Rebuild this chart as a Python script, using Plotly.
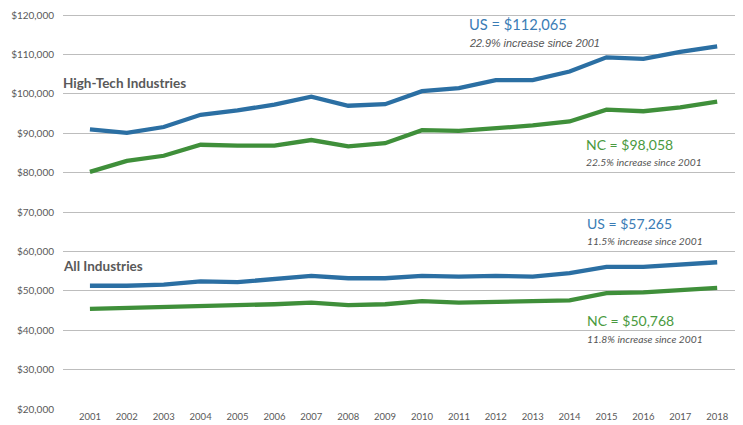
import plotly.graph_objects as go

years = list(range(2001, 2019))
us_hightech = [91000, 90100, 91600, 94700, 95800, 97300, 99300, 97000, 97400, 100700,
               101500, 103500, 103500, 105700, 109300, 108900, 110700, 112065]
nc_hightech = [80200, 83000, 84300, 87100, 86900, 86900, 88300, 86700, 87500, 90800,
               90600, 91200, 92000, 93000, 96000, 95600, 96600, 98058]
us_all = [51300, 51300, 51600, 52400, 52200, 53000, 53800, 53200, 53200, 53800,
          53600, 53800, 53600, 54500, 56100, 56100, 56700, 57265]
nc_all = [45400, 45600, 45800, 46200, 46200, 46600, 47000, 46400, 46600, 47400,
          47000, 47200, 47200, 47600, 49400, 49600, 50200, 50768]
y_ticks = [20000, 30000, 40000, 50000, 60000, 70000, 80000, 90000, 100000, 110000, 120000]
y_tick_labels = ["$" + f"{v:,}" for v in y_ticks]

BLUE = "#2b6fa3"
GREEN = "#3f8f3a"
BLUE_TXT = "#3a7cb5"
GREEN_TXT = "#4a9a40"
GRAY = "#595959"
FONT = "Lato, 'Source Sans Pro', sans-serif"

fig = go.Figure()
for vals, col in [(us_hightech, BLUE), (nc_hightech, GREEN), (us_all, BLUE), (nc_all, GREEN)]:
    fig.add_trace(go.Scatter(x=years, y=vals, mode="lines",
                             line=dict(color=col, width=4.3), showlegend=False,
                             hoverinfo="skip", cliponaxis=False))

def ann(x, y, text, color, size, bold=False, italic=False, family=FONT):
    t = text
    if bold:
        t = "<b>" + t + "</b>"
    if italic:
        t = "<i>" + t + "</i>"
    fig.add_annotation(x=x, y=y, xref="x", yref="y", text=t, showarrow=False,
                       xanchor="left", yanchor="middle", xshift=-2,
                       font=dict(color=color, size=size, family=family))

ann(2000.27, 102800, "High-Tech Industries", GRAY, 13.5, bold=True)
ann(2000.27, 56400, "All Industries", GRAY, 13.5, bold=True)
ann(2011.28, 117700, "US = $112,065", BLUE_TXT, 14.7)
ann(2011.28, 112900, "22.9% increase since 2001", "#555555", 10.8, italic=True,
    family="'Liberation Sans', Arial, sans-serif")
ann(2014.45, 87200, "NC = $98,058", GREEN_TXT, 14)
ann(2014.45, 82600, "22.5% increase since 2001", "#555555", 10.3, italic=True)
ann(2014.48, 67200, "US = $57,265", BLUE_TXT, 14)
ann(2014.48, 62700, "11.5% increase since 2001", "#555555", 10.3, italic=True)
ann(2014.48, 42500, "NC = $50,768", GREEN_TXT, 14)
ann(2014.48, 37700, "11.8% increase since 2001", "#555555", 10.3, italic=True)

# The page body has an 8px default margin, so the figure is sized/margined to compensate.
fig.update_layout(
    width=735, height=417,
    margin=dict(l=55, r=0, t=5, b=16, autoexpand=False),
    paper_bgcolor="white", plot_bgcolor="white",
    font=dict(family=FONT, color=GRAY, size=10),
    xaxis=dict(range=[2000.27, 2018.7], tickmode="array", tickvals=years,
               ticktext=[str(y) for y in years], showgrid=False, zeroline=False,
               showline=False, ticks="", automargin=False, ticklabelstandoff=0,
               ticklabeloverflow="allow", tickfont=dict(size=9.5, color=GRAY)),
    yaxis=dict(range=[20000, 120550], tickmode="array", tickvals=y_ticks,
               ticktext=y_tick_labels, showgrid=True, gridcolor="#bdbdbd",
               gridwidth=1, zeroline=False, showline=False, ticks="",
               automargin=False, ticklabelstandoff=8, ticklabeloverflow="allow",
               tickfont=dict(size=10, color=GRAY)),
)

fig.write_html("out.html")
